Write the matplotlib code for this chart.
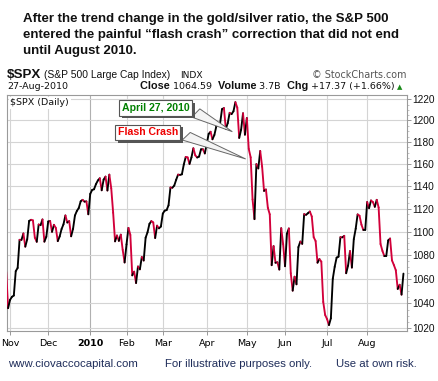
import numpy as np
import pandas as pd
import matplotlib
matplotlib.use("Agg")
import matplotlib.pyplot as plt
from matplotlib.collections import LineCollection
from matplotlib.patches import Polygon
import matplotlib.patheffects as pe
import matplotlib.ticker as mticker

# S&P 500 daily closes, 29-Oct-2009 .. 27-Aug-2010
closes = [
    1066.11, 1036.19,
    # Nov
    1042.88, 1045.41, 1046.50, 1066.63, 1069.30, 1093.08, 1093.01, 1098.51, 1087.24, 1093.48,
    1109.30, 1110.32, 1109.80, 1094.90, 1091.38, 1106.24, 1105.65, 1110.63, 1091.49, 1095.63,
    # Dec
    1108.86, 1109.24, 1099.92, 1105.98, 1103.25, 1091.94, 1095.95, 1102.35, 1106.41, 1114.11,
    1107.93, 1109.18, 1096.08, 1102.47, 1114.05, 1118.02, 1120.59, 1126.48, 1127.78, 1126.20,
    1126.42, 1115.10,
    # Jan
    1132.99, 1136.52, 1137.14, 1141.69, 1144.98, 1146.98, 1136.22, 1145.68, 1148.46, 1136.03,
    1150.23, 1138.04, 1116.48, 1091.76, 1096.78, 1092.17, 1097.50, 1084.53, 1073.87,
    # Feb
    1089.19, 1103.32, 1097.28, 1063.11, 1066.19, 1056.74, 1070.52, 1068.13, 1078.47, 1075.51,
    1094.87, 1099.51, 1106.75, 1109.17, 1108.01, 1094.60, 1105.24, 1102.94, 1104.49,
    # Mar
    1115.71, 1118.31, 1118.79, 1122.97, 1138.70, 1138.50, 1140.45, 1145.61, 1150.24, 1149.99,
    1150.51, 1159.46, 1166.21, 1165.83, 1159.90, 1165.81, 1174.17, 1167.72, 1165.73, 1166.59,
    1173.22, 1173.27, 1169.43,
    # Apr
    1178.10, 1187.44, 1189.44, 1182.45, 1186.44, 1194.37, 1196.48, 1197.30, 1210.65, 1211.67,
    1192.13, 1197.52, 1207.17, 1205.94, 1208.67, 1217.28, 1212.05, 1183.71, 1191.36, 1206.78,
    1186.69,
    # May
    1202.26, 1173.60, 1165.87, 1128.15, 1110.88, 1159.73, 1155.79, 1171.67, 1157.44, 1135.68,
    1136.94, 1120.80, 1115.05, 1071.59, 1087.69, 1073.65, 1074.03, 1067.95, 1103.06, 1089.41,
    # Jun
    1070.71, 1098.38, 1102.83, 1064.88, 1050.47, 1062.00, 1055.69, 1086.84, 1091.60, 1089.63,
    1115.23, 1114.61, 1116.04, 1117.51, 1113.20, 1095.31, 1092.04, 1073.69, 1076.76, 1074.57,
    1041.24, 1030.71,
    # Jul
    1027.37, 1022.58, 1028.06, 1060.27, 1070.25, 1077.96, 1078.75, 1095.34, 1095.17, 1096.48,
    1064.88, 1071.25, 1083.48, 1069.59, 1093.67, 1102.66, 1115.01, 1113.84, 1106.13, 1101.53,
    1101.60,
    # Aug
    1125.86, 1120.46, 1127.24, 1125.81, 1121.64, 1127.79, 1121.06, 1089.47, 1083.61, 1079.25,
    1079.38, 1092.54, 1094.16, 1075.63, 1071.69, 1067.36, 1051.87, 1055.33, 1047.22, 1064.59,
]
holidays = ["2009-11-26", "2009-12-25", "2010-01-01", "2010-01-18",
            "2010-02-15", "2010-04-02", "2010-05-31", "2010-07-05"]
month_labels = ["Nov", "Dec", "2010", "Feb", "Mar", "Apr", "May", "Jun", "Jul", "Aug"]
y_ticks = [1020, 1040, 1060, 1080, 1100, 1120, 1140, 1160, 1180, 1200, 1220]
title_lines = [
    "After the trend change in the gold/silver ratio, the S&P 500",
    "entered the painful \u201cflash crash\u201d correction that did not end",
    "until August 2010.",
]

dates = pd.bdate_range("2009-10-29", "2010-08-27")
dates = dates[~dates.isin(pd.to_datetime(holidays))]
x = np.arange(len(closes))
y = np.array(closes)

# first trading day of each month
month_pos = [i for i in range(1, len(dates)) if dates[i].month != dates[i - 1].month]

fig = plt.figure(figsize=(4.39, 3.81), dpi=100)
ax = fig.add_axes([7.3 / 439, 1 - 330.7 / 381, (406.7 - 7.3) / 439, (330.7 - 94.7) / 381])

ax.set_yscale("log")
ax.set_ylim(1018.1, 1224.4)
ax.set_xlim(0.58, 209.7)

# up segments black, down segments red
pts = np.column_stack([x, y]).reshape(-1, 1, 2)
segs = np.concatenate([pts[:-1], pts[1:]], axis=1)
cols = ["#000000" if y[i + 1] >= y[i] else "#d2003a" for i in range(len(y) - 1)]
lc = LineCollection(segs, colors=cols, linewidths=1.35, capstyle="round", joinstyle="round", zorder=3)
ax.add_collection(lc)

ax.yaxis.tick_right()
ax.set_yticks(y_ticks)
ax.yaxis.set_major_formatter(mticker.FuncFormatter(lambda v, p: "%d" % v))
ax.yaxis.set_minor_locator(mticker.FixedLocator(np.arange(1020, 1225, 5)))
ax.yaxis.set_minor_formatter(mticker.NullFormatter())
ax.tick_params(axis="y", which="major", length=3, width=0.6, color="#888888", pad=1,
               labelsize=7.3, labelcolor="#111111")
ax.tick_params(axis="y", which="minor", length=1.5, width=0.5, color="#aaaaaa")
for lab in ax.get_yticklabels():
    lab.set_fontfamily("Liberation Sans")

ax.set_xticks(month_pos)
ax.set_xticklabels(month_labels)
ax.tick_params(axis="x", length=3, width=0.6, color="#888888", pad=3, labelsize=6.8)
for lab in ax.get_xticklabels():
    lab.set_fontfamily("DejaVu Sans")
    if lab.get_text() == "2010":
        lab.set_fontweight("bold")

ax.grid(True, which="major", color="#d4d4d4", linewidth=0.8, zorder=0)
ax.get_xgridlines()[2].set_color("#b0b0b0")
for s in ax.spines.values():
    s.set_color("#9a9a9a")
    s.set_linewidth(0.8)

ax.text(0.008, 0.985, "$SPX (Daily)", transform=ax.transAxes, fontsize=6.8,
        family="DejaVu Sans", va="top", ha="left", color="#111111", zorder=4,
        bbox=dict(boxstyle="square,pad=0.15", fc="white", ec="none"))


def callout(text, color, box_xy, target, wedge):
    # box_xy: left/top of box in axes fraction; target: data coords
    t = ax.text(box_xy[0], box_xy[1], text, transform=ax.transAxes, fontsize=7.6,
                family="Liberation Sans", fontweight="bold", color=color,
                va="top", ha="left", zorder=8,
                bbox=dict(boxstyle="square,pad=0.25", fc="white", ec="#555555", lw=0.8))
    t.get_bbox_patch().set_path_effects(
        [pe.SimplePatchShadow(offset=(2, -2), shadow_rgbFace="#555555", alpha=1.0), pe.Normal()])
    p1 = ax.transData.inverted().transform(ax.transAxes.transform(wedge[0]))
    p2 = ax.transData.inverted().transform(ax.transAxes.transform(wedge[1]))
    poly = Polygon([p1, target, p2], closed=True, fc="#f4f4f4", ec="#666666", lw=0.7, zorder=6)
    ax.add_patch(poly)


callout("April 27, 2010", "#008000", (0.287, 0.965), (118.4, 1189.5),
        [(0.482, 0.940), (0.462, 0.905)])
callout("Flash Crash", "#ee0000", (0.276, 0.862), (125.4, 1164.4),
        [(0.458, 0.840), (0.438, 0.808)])

# header texts
for k, line in enumerate(title_lines):
    fig.text(22.7 / 439, 1 - (22 + 16.2 * k) / 381, line,
             fontsize=9.5, fontweight="bold", family="Liberation Sans", color="#111111",
             va="baseline", ha="left")

fig.text(7 / 439, 1 - 78.3 / 381, "$SPX", fontsize=9.6, fontweight="bold",
         family="Liberation Sans", va="baseline", color="#111111")
fig.text(44 / 439, 1 - 78.3 / 381, "(S&P 500 Large Cap Index)", fontsize=7.4,
         family="Liberation Sans", va="baseline", color="#111111")
fig.text(180 / 439, 1 - 78.3 / 381, "INDX", fontsize=6.6,
         family="DejaVu Sans", va="baseline", color="#111111")
fig.text(407 / 439, 1 - 78 / 381, "\u00a9 StockCharts.com", fontsize=6.9,
         family="DejaVu Sans", va="baseline", ha="right", color="#555555")
fig.text(7 / 439, 1 - 89 / 381, "27-Aug-2010", fontsize=6.8,
         family="DejaVu Sans", va="baseline", color="#111111")

parts = [("Close ", "bold"), ("1064.59  ", "normal"), ("Volume ", "bold"),
         ("3.7B  ", "normal"), ("Chg ", "bold"), ("+17.37 (+1.66%)", "normal")]
xpos = 140
r = fig.canvas.get_renderer()
for txt, w in parts:
    fs = 7.8 if w == "bold" else 6.8
    fam = "Liberation Sans" if w == "bold" else "DejaVu Sans"
    t = fig.text(xpos / 439, 1 - 89 / 381, txt, fontsize=fs, fontweight=w,
                 family=fam, va="baseline", color="#111111")
    bb = t.get_window_extent(renderer=r)
    xpos += bb.width
fig.text((xpos + 2) / 439, 1 - 89 / 381, "\u25b2", fontsize=5, color="#1a8a1a",
         va="baseline", family="DejaVu Sans")

# footer
fig.text(7.7 / 439, 1 - 366.7 / 381, "www.ciovaccocapital.com", fontsize=8.2,
         family="Liberation Sans", va="baseline", color="#1f2d5a")
fig.text(165 / 439, 1 - 366.7 / 381, "For illustrative purposes only.", fontsize=8.2,
         family="Liberation Sans", va="baseline", color="#1f2d5a")
fig.text(336 / 439, 1 - 366.7 / 381, "Use at own risk.", fontsize=8.2,
         family="Liberation Sans", va="baseline", color="#1f2d5a")

fig.savefig("out.png", dpi=100)
